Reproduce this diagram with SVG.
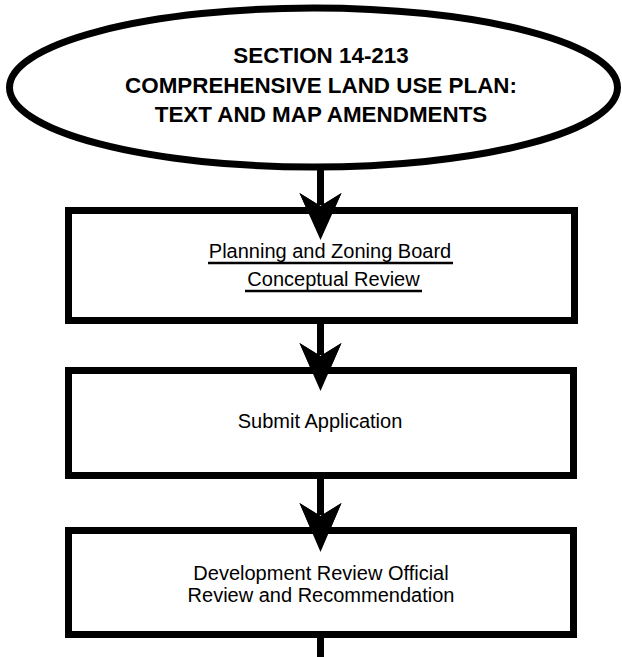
<svg xmlns="http://www.w3.org/2000/svg" width="622" height="657" viewBox="0 0 622 657">
<style>
.node{fill:#fff;stroke:#000;stroke-width:7}
.title{font-family:"Liberation Sans",Arial,sans-serif;font-weight:bold;font-size:22.4px;fill:#000;text-anchor:middle}
.lbl{font-family:"Liberation Sans",Arial,sans-serif;font-size:20px;fill:#000;text-anchor:middle}
.ul{stroke:#000;stroke-width:2.5}
.conn{stroke:#000;stroke-width:7;fill:none}
.head{fill:#000;stroke:none}
</style>
<rect width="622" height="657" fill="#fff"/>
<g id="connectors">
<line class="conn" x1="320.5" y1="166" x2="320.5" y2="205"/>
<path class="head" d="M320.5,240 L299.5,193 L320.5,206 L341.5,193 Z"/>
<line class="conn" x1="320.5" y1="322" x2="320.5" y2="355"/>
<path class="head" d="M320.5,391 L299.5,343 L320.5,356 L341.5,343 Z"/>
<line class="conn" x1="320.5" y1="477" x2="320.5" y2="515"/>
<path class="head" d="M320.5,552 L299.5,503 L320.5,516 L341.5,503 Z"/>
<line class="conn" x1="320.5" y1="636" x2="320.5" y2="657"/>
</g>
<g id="start">
<ellipse class="node" cx="313.5" cy="87.5" rx="304" ry="79.5" stroke-width="6.5"/>
<text class="title" x="321" y="63">SECTION 14-213</text>
<text class="title" x="321" y="93">COMPREHENSIVE LAND USE PLAN:</text>
<text class="title" x="321" y="122">TEXT AND MAP AMENDMENTS</text>
</g>
<g id="box1">
<rect class="node" x="68.5" y="210.5" width="506" height="110"/>
<path class="head" d="M320.5,240 L299.5,193 L320.5,206 L341.5,193 Z"/>
<text class="lbl" x="330" y="258">Planning and Zoning Board </text>
<line class="ul" x1="208" y1="263" x2="453" y2="263"/>
<text class="lbl" x="333.5" y="286">Conceptual Review</text>
<line class="ul" x1="245" y1="291" x2="422" y2="291"/>
</g>
<g id="box2">
<rect class="node" x="68.5" y="370.5" width="505" height="105"/>
<path class="head" d="M320.5,391 L299.5,343 L320.5,356 L341.5,343 Z"/>
<text class="lbl" x="320" y="428">Submit Application</text>
</g>
<g id="box3">
<rect class="node" x="68.5" y="530.5" width="505" height="104"/>
<path class="head" d="M320.5,552 L299.5,503 L320.5,516 L341.5,503 Z"/>
<text class="lbl" x="321" y="580">Development Review Official</text>
<text class="lbl" x="321" y="602">Review and Recommendation</text>
</g>
</svg>
